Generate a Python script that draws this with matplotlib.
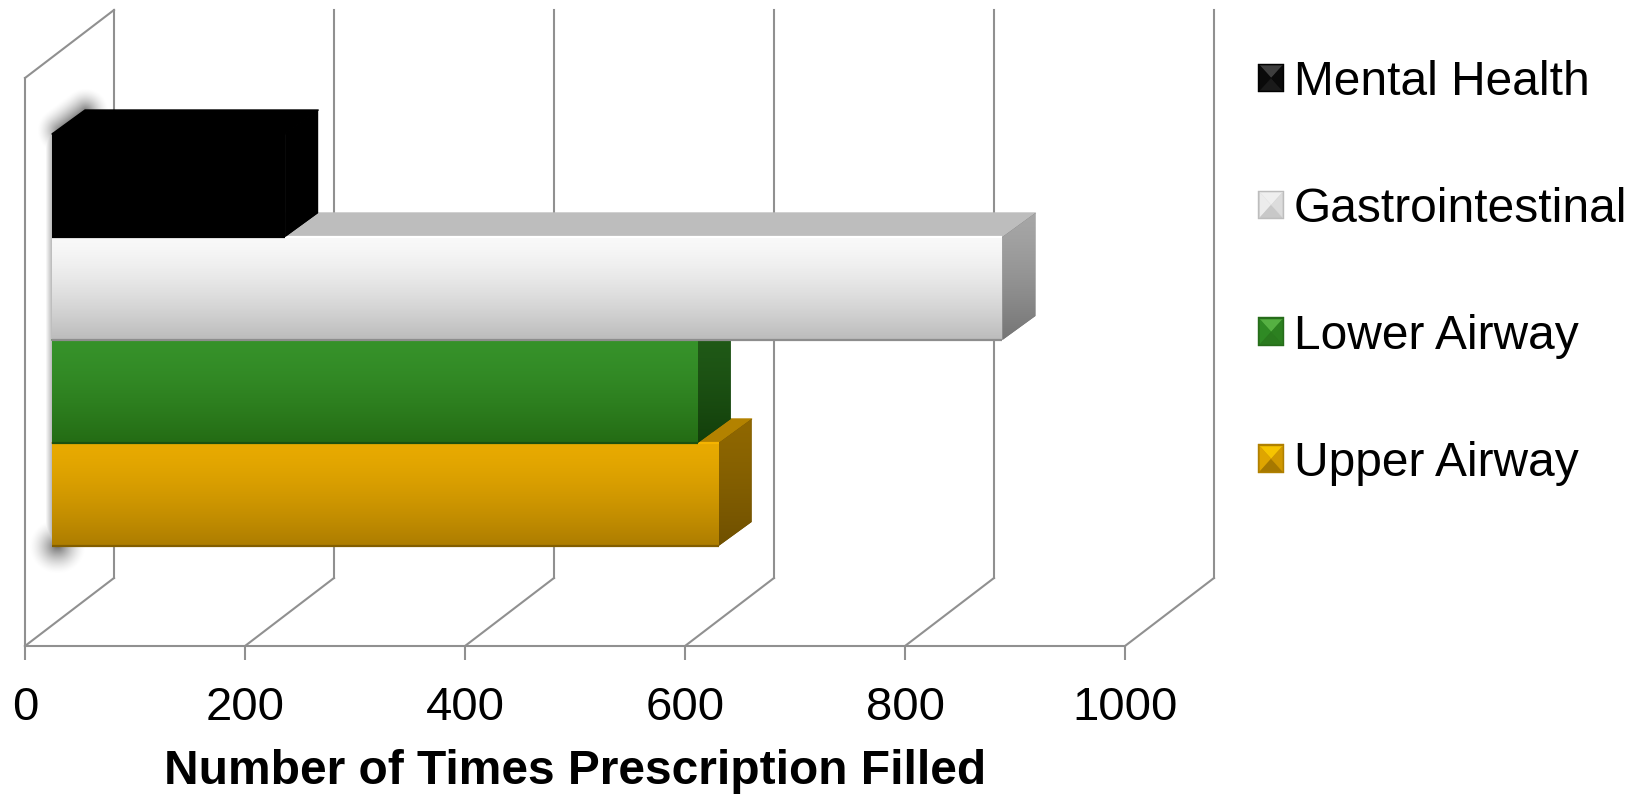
import numpy as np
import matplotlib
matplotlib.use('Agg')
import matplotlib.pyplot as plt
from matplotlib.patches import Polygon
from matplotlib.legend_handler import HandlerBase
from matplotlib.colors import to_rgb

plt.rcParams['font.family'] = ['Liberation Sans', 'DejaVu Sans']

# values, bottom bar first
categories = ['Upper Airway', 'Lower Airway', 'Gastrointestinal', 'Mental Health']
values = [606, 587, 864, 212]
xticks = [0, 200, 400, 600, 800, 1000]
xlabel = 'Number of Times Prescription Filled'

# colours: front top, front bottom, top face, side top, side bottom, highlight
styles = {
    'Upper Airway': ('#e8aa00', '#ad7d00', '#b38200', '#8f6700', '#6f5000', '#f5b400'),
    'Lower Airway': ('#36922a', '#246c14', '#1c5212', '#215c18', '#133f0b', '#3b9a2e'),
    'Gastrointestinal': ('#f9f9f9', '#bcbcbc', '#bdbdbd', '#a6a6a6', '#757575', '#ffffff'),
    'Mental Health': ('#000000', '#000000', '#000000', '#000000', '#000000', '#000000'),
}
# legend swatch: top, left, bottom, right, rim
swatches = {
    'Upper Airway': ('#f6c400', '#dfa500', '#a67800', '#d09800', '#b08000'),
    'Lower Airway': ('#55b042', '#2f8a24', '#2a7a1e', '#2c8020', '#266c1a'),
    'Gastrointestinal': ('#efefef', '#ececec', '#c8c8c8', '#dcdcdc', '#bdbdbd'),
    'Mental Health': ('#3e3e3e', '#0a0a0a', '#1a1a1a', '#0a0a0a', '#000000'),
}

GRID = '#909090'
W, H = 1643, 794
PX_X = 1.1       # pixels per x unit
PX_Y = 103.0     # pixels per category
WALL_DX, WALL_DY = 89 / PX_X, 68 / PX_Y
BAR_DX, BAR_DY = 33 / PX_X, 24 / PX_Y
BAR_START = 27 / PX_X

fig = plt.figure(figsize=(W / 100, H / 100), dpi=100)

# soft shadow behind the bars, in pixel coordinates
ax_px = fig.add_axes([0, 0, 1, 1])
ax_px.set_axis_off()
yy, xx = np.mgrid[0:H, 0:W]


def seg_dist(x0, y0, x1, y1):
    t = np.clip(((xx - x0) * (x1 - x0) + (yy - y0) * (y1 - y0)) / ((x1 - x0) ** 2 + (y1 - y0) ** 2 + 1e-9), 0, 1)
    return np.hypot(xx - (x0 + t * (x1 - x0)), yy - (y0 + t * (y1 - y0)))


alpha = np.clip(1 - seg_dist(60, 130, 85, 111) / 24, 0, 1) ** 1.6 * 0.55
alpha = np.maximum(alpha, np.clip(1 - seg_dist(52, 135, 52, 546) / 7, 0, 1) * 0.3)
alpha = np.maximum(alpha, np.clip(1 - seg_dist(56, 546, 58, 546) / 28, 0, 1) ** 1.6 * 0.55)
shadow = np.zeros((H, W, 4))
shadow[..., 3] = alpha
ax_px.imshow(shadow, extent=(0, W, H, 0), aspect='auto', interpolation='bilinear')

# main axes: left wall x=25, floor y=646, wall top y=78
ax = fig.add_axes([25 / W, (H - 646) / H, 1100 / W, 568 / H])
ax.patch.set_alpha(0)
ymin = -0.5 - 100 / PX_Y
ymax = 3.5 + 56 / PX_Y

# back wall and floor lines
for t in xticks:
    ax.plot([t, t + WALL_DX], [ymin, ymin + WALL_DY], color=GRID, lw=1.5, clip_on=False, zorder=1)
    ax.plot([t + WALL_DX, t + WALL_DX], [ymin + WALL_DY, ymax + WALL_DY], color=GRID, lw=1.5, clip_on=False, zorder=1)
ax.plot([0, WALL_DX], [ymax, ymax + WALL_DY], color=GRID, lw=1.5, clip_on=False, zorder=1)


def gradient(poly, top, bottom, zorder):
    x0, y0 = poly.min(axis=0)
    x1, y1 = poly.max(axis=0)
    t = np.linspace(0, 1, 64)[:, None] ** 1.4
    c = ((1 - t) * np.array(to_rgb(top)) + t * np.array(to_rgb(bottom)))[:, None, :]
    # solid fill under the image so no pale edge shows through
    patch = Polygon(poly, closed=True, fc=bottom, ec='none', zorder=zorder)
    ax.add_patch(patch)
    im = ax.imshow(c, extent=(x0, x1, y0, y1), aspect='auto', origin='upper', zorder=zorder)
    im.set_clip_path(patch)


bars = ax.barh(range(len(values)), values, left=BAR_START, height=1.0, color='none')

z = 3
for i, (name, val, bar) in enumerate(zip(categories, values, bars)):
    front_top, front_bot, top_c, side_top, side_bot, hi = styles[name]
    x0, x1 = BAR_START, BAR_START + val
    y0, y1 = bar.get_y(), bar.get_y() + bar.get_height()
    # top face
    ax.add_patch(Polygon([(x0, y1), (x0 + BAR_DX, y1 + BAR_DY), (x1 + BAR_DX, y1 + BAR_DY), (x1, y1)],
                         closed=True, fc=top_c, ec=top_c, lw=1, joinstyle='round', zorder=z))
    # side face
    side = np.array([(x1, y0), (x1, y1), (x1 + BAR_DX, y1 + BAR_DY), (x1 + BAR_DX, y0 + BAR_DY)])
    gradient(side, side_top, side_bot, z + 0.1)
    # front face
    front = np.array([(x0, y0), (x0, y1), (x1, y1), (x1, y0)])
    gradient(front, front_top, front_bot, z + 0.2)
    # bevel lines on the front edges
    dark = tuple(0.75 * v for v in to_rgb(front_bot))
    ax.plot([x0, x1], [y0, y0], color=dark, lw=1.6, zorder=z + 0.3, solid_capstyle='butt')
    ax.plot([x0, x1], [y1, y1], color=hi, lw=1.6, zorder=z + 0.3, solid_capstyle='butt')
    z += 1

ax.set_xlim(0, 1000)
ax.set_ylim(ymin, ymax)
ax.set_yticks([])
ax.set_xticks(xticks)
ax.tick_params(axis='x', length=10, width=1.5, color=GRID, labelsize=34, pad=18.5)
for s in ['top', 'right']:
    ax.spines[s].set_visible(False)
for s in ['left', 'bottom']:
    ax.spines[s].set_color(GRID)
    ax.spines[s].set_linewidth(1.5)
fig.text(575 / W, 1 - 771 / H, xlabel, ha='center', va='center', fontsize=34.5, fontweight='bold')


# pyramid style legend swatch
class SwatchHandler(HandlerBase):
    def create_artists(self, legend, orig, xd, yd, width, height, fontsize, trans):
        top, left, bottom, right, rim = swatches[orig.get_label()]
        x0, y0 = -xd, -yd
        x1, y1 = x0 + width, y0 + height
        out = [Polygon([(x0, y0), (x1, y0), (x1, y1), (x0, y1)], closed=True, fc=rim, ec=rim, lw=0.3, transform=trans)]
        m = width * 0.07
        x0, y0, x1, y1 = x0 + m, y0 + m, x1 - m, y1 - m
        cx, cy = (x0 + x1) / 2, (y0 + y1) / 2
        tris = [(top, [(x0, y1), (x1, y1), (cx, cy)]), (left, [(x0, y0), (x0, y1), (cx, cy)]),
                (bottom, [(x0, y0), (x1, y0), (cx, cy)]), (right, [(x1, y0), (x1, y1), (cx, cy)])]
        for c, pts in tris:
            out.append(Polygon(pts, closed=True, fc=c, ec=c, lw=0.2, transform=trans))
        return out


handles = [Polygon([(0, 0)], label=name) for name in categories[::-1]]
fig.legend(handles, categories[::-1], handler_map={Polygon: SwatchHandler()}, loc='upper left',
           bbox_to_anchor=(1258 / W, 1 - 60 / H), frameon=False, fontsize=34.5, borderpad=0, borderaxespad=0,
           handlelength=0.55, handleheight=0.55, handletextpad=0.2, labelspacing=1.71)

fig.savefig('out.png', dpi=100)
